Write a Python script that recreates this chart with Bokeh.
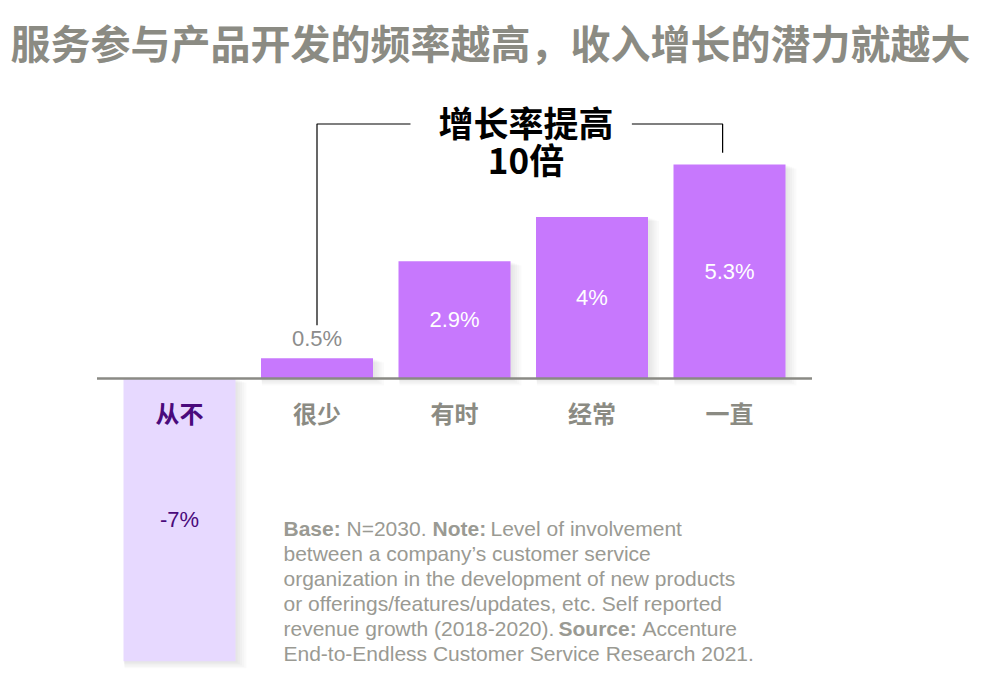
from bokeh.plotting import figure
from bokeh.models import Range1d, Label, ColumnDataSource
from bokeh.core.properties import value
from bokeh.embed import file_html
from bokeh.resources import INLINE

# ---- data ----
categories = ["从不", "很少", "有时", "经常", "一直"]
growth = [-7.0, 0.5, 2.9, 4.0, 5.3]
value_labels = ["-7%", "0.5%", "2.9%", "4%", "5.3%"]
title_text = "服务参与产品开发的频率越高，收入增长的潜力就越大"
callout_lines = ["增长率提高", "10倍"]

# ---- styles ----
POS_COLOR = "#c778fd"
NEG_COLOR = "#e7d9ff"
DARK_PURPLE = "#4a0a7c"
GRAY = "#8b8b83"
NOTE_GRAY = "#9a9a93"
CJK = "Noto Sans CJK SC"
LAT = "Liberation Sans"

W, H = 984, 684
PX_X = 137.5   # pixels per category
PX_Y = 40.4    # pixels per percentage point
x0 = 179       # canvas px of first category
y0 = 306       # canvas px (from bottom) of zero line

p = figure(width=W, height=H, output_backend="svg", toolbar_location=None,
           x_range=Range1d(-x0 / PX_X, (W - x0) / PX_X),
           y_range=Range1d(-y0 / PX_Y, (H - y0) / PX_Y),
           min_border=0, min_border_left=0, min_border_right=0,
           min_border_top=0, min_border_bottom=0)
p.xaxis.visible = False
p.yaxis.visible = False
p.xgrid.visible = False
p.ygrid.visible = False
p.outline_line_color = None
p.background_fill_color = "white"
p.border_fill_color = "white"

idx = list(range(len(categories)))
bar_w = 112 / PX_X
colors = [NEG_COLOR if v < 0 else POS_COLOR for v in growth]

# soft drop shadow
for k in range(1, 6):
    dx = (1.2 * k) / PX_X
    dy = (1.4 * k) / PX_Y
    p.vbar(x=[i + dx for i in idx], width=bar_w + 2 * k / PX_X,
           top=[max(v, 0) - dy + (k * 0.6) / PX_Y for v in growth],
           bottom=[min(v, 0) - dy for v in growth],
           fill_color="black", fill_alpha=0.018, line_color=None)

src = ColumnDataSource(dict(x=idx, top=growth, color=colors))
p.vbar(x="x", top="top", bottom=0, width=bar_w, fill_color="color",
       line_color=None, source=src)

# zero line
p.segment(x0=[-0.6], y0=[0], x1=[4.6], y1=[0], line_color="#8a8a84", line_width=2.5)

# value labels
lx, ly, lt, lc = [], [], [], []
for i, v, t in zip(idx, growth, value_labels):
    lx.append(i)
    lt.append(t)
    if abs(v) >= 1:
        ly.append(v / 2)
        lc.append("white" if v > 0 else DARK_PURPLE)
    else:
        ly.append(v + 0.5)
        lc.append("#8c8c8c")
p.text(x=lx, y=ly, text=lt, text_color=lc, text_font=value(LAT),
       text_font_size="22px", text_align="center", text_baseline="middle")

# category labels
cat_colors = [DARK_PURPLE if v < 0 else GRAY for v in growth]
p.text(x=idx, y=[-0.84] * len(idx), text=categories, text_color=cat_colors,
       text_font=value(CJK), text_font_style="bold", text_font_size="24px",
       text_align="center", text_baseline="middle")

# bracket callout
br_y = max(growth) + 1.0
left_i, right_i = 1, 4
p.line(x=[left_i, left_i, left_i + 0.68], y=[growth[left_i] + 0.82, br_y, br_y],
       line_color="black", line_width=1.2)
p.line(x=[3.29, right_i - 0.05, right_i - 0.05], y=[br_y, br_y, growth[right_i] + 0.29],
       line_color="black", line_width=1.2)
p.add_layout(Label(x=2.52, y=br_y + 0.05, text=callout_lines[0], text_align="center",
                   text_baseline="middle", text_font=CJK, text_font_style="bold",
                   text_font_size="35px", text_color="black"))
p.add_layout(Label(x=2.52, y=br_y - 0.85, text=callout_lines[1], text_align="center",
                   text_baseline="middle", text_font=CJK, text_font_style="bold",
                   text_font_size="35px", text_color="black"))

# title
p.add_layout(Label(x=10, y=643, x_units="screen", y_units="screen", text=title_text,
                   text_font=CJK, text_font_style="bold", text_font_size="40px",
                   text_color=GRAY, text_baseline="middle"))

# footnote
note_segments = [
    (283, 156, "Base:", "bold"), (346, 156, "N=2030.", "normal"),
    (432, 156, "Note:", "bold"), (490, 156, "Level of involvement", "normal"),
    (283, 131, "between a company\u2019s customer service", "normal"),
    (283, 106, "organization in the development of new products", "normal"),
    (283, 81, "or offerings/features/updates, etc. Self reported", "normal"),
    (283, 56, "revenue growth (2018-2020).", "normal"),
    (558, 56, "Source:", "bold"), (642, 56, "Accenture", "normal"),
    (283, 31, "End-to-Endless Customer Service Research 2021.", "normal"),
]
for sx, sy, t, st in note_segments:
    p.add_layout(Label(x=sx, y=sy, x_units="screen", y_units="screen", text=t,
                       text_font=LAT, text_font_style=st, text_font_size="21px",
                       text_color=NOTE_GRAY, text_baseline="middle"))

open("out.html", "w").write(file_html(p, INLINE))
